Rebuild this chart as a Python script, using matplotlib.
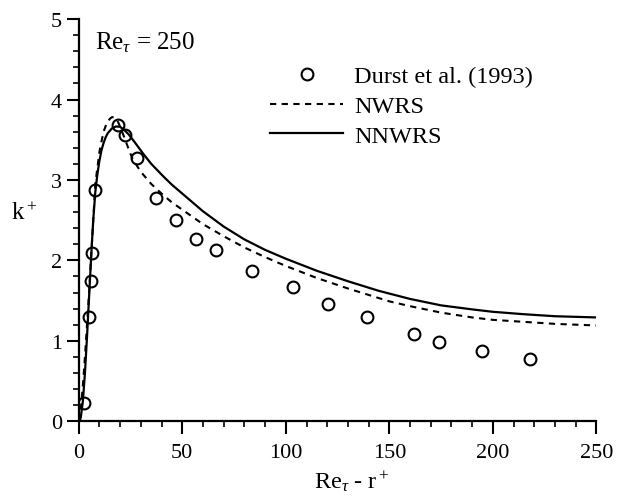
import matplotlib
matplotlib.use('Agg')
import matplotlib.pyplot as plt
from matplotlib.ticker import MultipleLocator

plt.rcParams['font.family'] = ['Liberation Serif', 'DejaVu Serif']
plt.rcParams['mathtext.fontset'] = 'custom'
plt.rcParams['mathtext.rm'] = 'Liberation Serif'
plt.rcParams['mathtext.it'] = 'Liberation Serif:italic'

# Durst et al. (1993) measurements
durst_x = [2.3, 5.1, 5.9, 6.5, 8.0, 19.0, 22.4, 28.2, 37.5, 47.0, 56.6, 66.2,
           83.8, 103.3, 120.2, 139.3, 161.8, 174.2, 194.5, 217.8]
durst_y = [0.23, 1.29, 1.74, 2.09, 2.87, 3.68, 3.56, 3.27, 2.77, 2.50, 2.26, 2.13,
           1.87, 1.67, 1.46, 1.29, 1.09, 0.98, 0.87, 0.77]

# NWRS model
nwrs_x = [0, 1, 2, 3, 4, 5, 6, 7, 8, 9, 10, 11, 12, 13, 14, 15, 16, 17, 18, 19,
          20, 22, 24, 26, 30, 35, 40, 45, 50, 60, 70, 80, 90, 100, 115, 130,
          150, 160, 175, 190, 200, 215, 230, 250]
nwrs_y = [0.0, 0.15, 0.45, 0.8, 1.2, 1.6, 2.05, 2.5, 2.95, 3.15, 3.35, 3.48,
          3.60, 3.67, 3.72, 3.76, 3.78, 3.78, 3.76, 3.72, 3.66, 3.53, 3.39,
          3.26, 3.10, 2.95, 2.83, 2.72, 2.63, 2.45, 2.30, 2.16, 2.04, 1.93,
          1.78, 1.65, 1.49, 1.43, 1.35, 1.29, 1.26, 1.235, 1.21, 1.19]

# NNWRS model
nnwrs_x = [0.5, 1, 2, 3, 4, 5, 6, 7, 8, 9, 10, 11, 12, 13, 14, 16, 18, 20, 22,
           24, 27, 31, 35, 41, 45, 50, 55, 60, 70, 80, 90, 100, 115, 130, 145,
           160, 175, 190, 200, 215, 230, 250]
nnwrs_y = [0.0, 0.05, 0.25, 0.6, 1.05, 1.55, 2.05, 2.5, 2.85, 3.07, 3.24, 3.37,
           3.46, 3.53, 3.58, 3.64, 3.665, 3.66, 3.62, 3.57, 3.47, 3.33, 3.20,
           3.04, 2.94, 2.83, 2.72, 2.61, 2.42, 2.26, 2.13, 2.02, 1.87, 1.74,
           1.62, 1.52, 1.44, 1.39, 1.36, 1.33, 1.305, 1.29]

fig = plt.figure(figsize=(6.2, 5.02), dpi=100)
ax = fig.add_axes([0.127, 0.159, 0.835, 0.801])

ax.plot(durst_x, durst_y, 'o', mfc='none', mec='black', ms=8.5, mew=1.5,
        label='Durst et al. (1993)')
ax.plot(nwrs_x, nwrs_y, '--', color='black', lw=1.5, dashes=(3, 2.6),
        label='NWRS')
ax.plot(nnwrs_x, nnwrs_y, '-', color='black', lw=1.6, label='NNWRS')

ax.set_xlim(0, 250)
ax.set_ylim(0, 5)
ax.xaxis.set_major_locator(MultipleLocator(50))
ax.xaxis.set_minor_locator(MultipleLocator(10))
ax.yaxis.set_major_locator(MultipleLocator(1))
ax.yaxis.set_minor_locator(MultipleLocator(0.2))

for side in ['top', 'right']:
    ax.spines[side].set_visible(False)
for side in ['left', 'bottom']:
    ax.spines[side].set_linewidth(1.6)

ax.tick_params(which='major', direction='out', length=9, width=1.5,
               labelsize=16, pad=3)
ax.tick_params(which='minor', direction='out', length=4.5, width=1.2)
ax.tick_params(axis='x', which='major', pad=7)

ax.set_xlabel(r'Re$_\tau$ - r$^+$', fontsize=17.5)
ax.xaxis.set_label_coords(0.527, -0.118)
ax.set_ylabel(r'k$^+$', fontsize=18, rotation=0, va='center')
ax.yaxis.set_label_coords(-0.105, 0.52)

ax.text(8, 4.64, r'Re$_\tau$ = 250', fontsize=18, va='baseline', ha='left')

leg = ax.legend(loc='upper left', bbox_to_anchor=(0.37, 0.885), frameon=False,
                fontsize=17.5, handlelength=3.0, handletextpad=0.45,
                labelspacing=0.32, borderpad=0, borderaxespad=0)

fig.savefig('out.png', dpi=100)
